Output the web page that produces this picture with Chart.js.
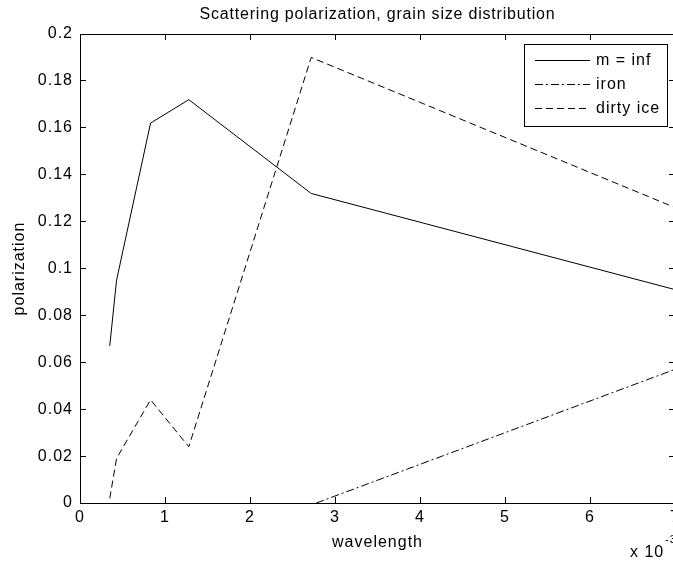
<!DOCTYPE html>
<html>
<head>
<meta charset="utf-8">
<title>Scattering polarization</title>
<script src="https://cdn.jsdelivr.net/npm/chart.js@4.4.0/dist/chart.umd.min.js"></script>
<style>
  html, body { margin: 0; padding: 0; background: #fff; overflow: hidden; }
  #wrap { width: 700px; height: 564px; }
</style>
</head>
<body>
<div id="wrap"><canvas id="polChart" width="700" height="564"></canvas></div>
<script>
'use strict';

// #region ***  Data                                      ***********
// wavelength in units of 10^-3 (axis multiplier shown bottom right)
const wavelength = [0.35, 0.43, 0.83, 1.28, 2.72, 7.0];
const mInf = [0.067, 0.095, 0.162, 0.172, 0.132, 0.091];
const dirtyIce = [0.002, 0.019, 0.044, 0.024, 0.19, 0.126];
// iron is below zero before ~2.8, only the visible part
const ironWavelength = [2.78, 7.0];
const iron = [0.0, 0.057];

const xTicks = [0, 1, 2, 3, 4, 5, 6, 7];
const yTicks = [0, 0.02, 0.04, 0.06, 0.08, 0.1, 0.12, 0.14, 0.16, 0.18, 0.2];

const titleText = 'Scattering polarization, grain size distribution';
const xLabel = 'wavelength';
const yLabel = 'polarization';
// #endregion

const fontFamily = "'Liberation Sans', Arial, sans-serif";
const textSpacing = '1px';
const tickLen = 6;

const toPoints = function (xs, ys) {
  return xs.map((x, i) => ({ x: x, y: ys[i] }));
};

// title above the axes box and the x multiplier
const matlabText = {
  id: 'matlabText',
  beforeDraw(chart) {
    chart.ctx.letterSpacing = textSpacing;
  },
  afterDraw(chart) {
    const ctx = chart.ctx;
    const area = chart.chartArea;
    ctx.save();
    ctx.fillStyle = '#000';
    ctx.textBaseline = 'alphabetic';
    ctx.textAlign = 'center';
    ctx.letterSpacing = '0.8px';
    ctx.font = '16px ' + fontFamily;
    ctx.fillText(titleText, (area.left + area.right) / 2, 19);

    ctx.letterSpacing = textSpacing;
    ctx.textAlign = 'left';
    ctx.fillText('x 10', 630, 557);
    ctx.font = '11px ' + fontFamily;
    ctx.fillText('-3', 665, 543);
    ctx.restore();
  }
};

// legend box in the top right corner of the axes
const boxLegend = {
  id: 'boxLegend',
  afterDraw(chart) {
    const ctx = chart.ctx;
    const bx = 524, by = 44, bw = 143, bh = 82;
    const rows = [60, 84, 108];
    ctx.save();
    ctx.fillStyle = '#fff';
    ctx.fillRect(bx, by, bw, bh);
    ctx.strokeStyle = '#000';
    ctx.lineWidth = 1;
    ctx.strokeRect(bx + 0.5, by + 0.5, bw, bh);
    ctx.font = '16px ' + fontFamily;
    ctx.textBaseline = 'middle';
    ctx.textAlign = 'left';
    chart.data.datasets.forEach((ds, i) => {
      const y = rows[i] + 0.5;
      ctx.setLineDash(ds.borderDash || []);
      ctx.beginPath();
      ctx.moveTo(535, y);
      ctx.lineTo(590, y);
      ctx.stroke();
      ctx.setLineDash([]);
      ctx.fillStyle = '#000';
      ctx.fillText(ds.label, 596, y);
    });
    ctx.restore();
  }
};

const init = function () {
  Chart.defaults.font.family = fontFamily;
  Chart.defaults.font.size = 16;
  Chart.defaults.color = '#000';

  const lineStyle = { borderColor: '#000', borderWidth: 1, pointRadius: 0, tension: 0, fill: false };
  // inward tick marks, no grid lines
  const tickGrid = { display: true, drawOnChartArea: false, drawTicks: true, tickLength: -tickLen, color: '#000', lineWidth: 1 };
  const frame = { display: true, color: '#000', width: 1 };
  const setXTicks = s => { s.ticks = xTicks.map(v => ({ value: v })); };
  const setYTicks = s => { s.ticks = yTicks.map(v => ({ value: v })); };

  const config = {
    type: 'line',
    data: {
      datasets: [
        Object.assign({ label: 'm = inf', data: toPoints(wavelength, mInf) }, lineStyle),
        Object.assign({ label: 'iron', data: toPoints(ironWavelength, iron), borderDash: [8, 3, 2, 3] }, lineStyle),
        Object.assign({ label: 'dirty ice', data: toPoints(wavelength, dirtyIce), borderDash: [7, 4] }, lineStyle)
      ]
    },
    options: {
      responsive: false,
      animation: false,
      devicePixelRatio: 1,
      layout: { padding: { top: 34, right: 25, bottom: 0, left: 0 } },
      plugins: { legend: { display: false }, tooltip: { enabled: false } },
      scales: {
        x: {
          type: 'linear',
          position: 'bottom',
          min: 0,
          max: 7,
          afterBuildTicks: setXTicks,
          afterFit: s => { s.height = 61; },
          grid: tickGrid,
          border: frame,
          ticks: { padding: 5 + tickLen, maxRotation: 0, callback: v => String(v) },
          title: { display: true, text: xLabel, padding: { top: 0, bottom: 12 } }
        },
        x2: {
          type: 'linear',
          position: 'top',
          min: 0,
          max: 7,
          afterBuildTicks: setXTicks,
          afterFit: s => { s.height = 0; },
          grid: tickGrid,
          border: frame,
          ticks: { display: false }
        },
        y: {
          type: 'linear',
          position: 'left',
          min: 0,
          max: 0.2,
          afterBuildTicks: setYTicks,
          afterFit: s => { s.width = 80; },
          grid: tickGrid,
          border: frame,
          ticks: { padding: 7 + tickLen, callback: v => String(Number(v.toFixed(2))) },
          title: { display: true, text: yLabel, padding: { top: 10, bottom: 0 } }
        },
        y2: {
          type: 'linear',
          position: 'right',
          min: 0,
          max: 0.2,
          afterBuildTicks: setYTicks,
          afterFit: s => { s.width = 0; },
          grid: tickGrid,
          border: frame,
          ticks: { display: false }
        }
      }
    },
    plugins: [matlabText, boxLegend]
  };

  new Chart(document.getElementById('polChart'), config);
};

document.addEventListener('DOMContentLoaded', init);
</script>
</body>
</html>
